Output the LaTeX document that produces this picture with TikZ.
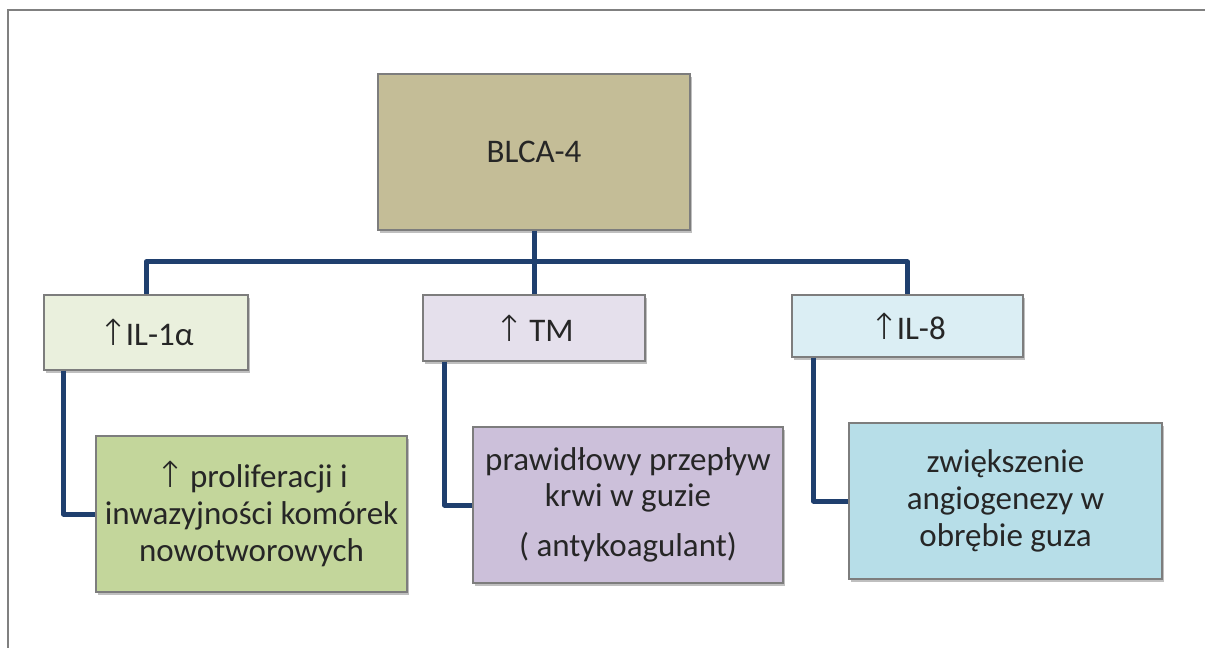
\documentclass[tikz,border=0pt]{standalone}
\usepackage{fontspec}
\setmainfont{Carlito}
\newfontfamily\arrowfont{DejaVu Sans ExtraLight}
\usetikzlibrary{shadows}

\definecolor{linkblue}{RGB}{31,63,110}
\definecolor{boxline}{RGB}{125,125,125}
\definecolor{tanfill}{RGB}{196,189,151}
\definecolor{lgreen}{RGB}{234,240,221}
\definecolor{lviolet}{RGB}{229,224,236}
\definecolor{lcyan}{RGB}{219,238,244}
\definecolor{dgreen}{RGB}{195,214,155}
\definecolor{dviolet}{RGB}{204,192,218}
\definecolor{dcyan}{RGB}{183,222,232}
\definecolor{inktext}{RGB}{38,38,38}

\newcommand{\up}{{\arrowfont\fontsize{27}{27}\selectfont\char"2191}\kern-2pt}

\tikzset{every picture/.style={line width=0.75pt}}

\begin{document}
\begin{tikzpicture}[
                x=0.75pt,
                y=0.75pt,
                yscale=-1,
                xscale=1,
                every node/.style={text=inktext},
                box/.style={draw=boxline, line width=1pt, align=center, inner sep=0pt,
                    font=\fontsize{24.75}{27.5}\selectfont,
                    drop shadow={shadow xshift=1.5pt, shadow yshift=-2pt, opacity=0.25, fill=black}},
                link/.style={draw=linkblue, line width=3.75pt, line join=round}
            ]
                \useasboundingbox (0,0) rectangle (1205,648);
                \draw [draw=gray, line width=1.5pt] (1205,10) -- (8,10) -- (8,648) ;

                \node [box, fill=tanfill, minimum width=234pt, minimum height=117pt] (blca) at (534,152) {BLCA-4};

                \node [box, fill=lgreen, minimum width=153pt, minimum height=56.25pt] (il1) at (146,332.5) {\up IL-1α};
                \node [box, fill=lviolet, minimum width=166.5pt, minimum height=49.5pt] (tm) at (534,328) {\up\ TM};
                \node [box, fill=lcyan, minimum width=173.25pt, minimum height=46.5pt] (il8) at (907.5,326) {\up IL-8};

                \node [box, fill=dgreen, minimum width=233.25pt, minimum height=117pt] (prolif) at (251.5,514) {\up\ proliferacji i\\inwazyjności komórek\\nowotworowych};
                \node [box, fill=dviolet, minimum width=232.5pt, minimum height=117pt] (flow) at (628,505) {prawidłowy przepływ\\krwi w guzie\\[10pt]( antykoagulant)};
                \node [box, fill=dcyan, minimum width=234.75pt, minimum height=117pt] (angio) at (1005.5,501) {zwiększenie\\angiogenezy w\\obrębie guza};

                \coordinate (fork) at (534,262);
                \draw [link] (blca.south) -- (tm.north) ;
                \draw [link] (il1.north) |- (fork) -| (il8.north) ;
                \draw [link] ([xshift=15pt]il1.south west) |- (prolif.west) ;
                \draw [link] ([xshift=16.5pt]tm.south west) |- (flow.west) ;
                \draw [link] ([xshift=16.5pt]il8.south west) |- (angio.west) ;
            \end{tikzpicture}
\end{document}
